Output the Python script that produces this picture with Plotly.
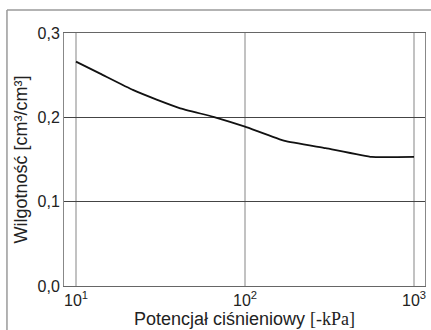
import plotly.graph_objects as go

# Data
pressure_kpa = [10, 14, 21.7, 30, 41, 65, 100, 172, 300, 562, 1000]
moisture = [0.266, 0.2515, 0.2325, 0.221, 0.211, 0.2005, 0.189, 0.172, 0.1635, 0.153, 0.153]

x_tick_vals = [10, 100, 1000]
x_tick_text = ["10<sup>1</sup>", "10<sup>2</sup>", "10<sup>3</sup>"]
y_tick_vals = [0.0, 0.1, 0.2, 0.3]
y_tick_text = ["0,0", "0,1", "0,2", "0,3"]

tick_font = dict(family="Liberation Sans, Arial, sans-serif", size=16, color="#222222")
title_font = dict(family="Liberation Sans, Arial, sans-serif", size=18, color="#222222")

fig = go.Figure()
fig.add_trace(go.Scatter(x=pressure_kpa, y=moisture, mode="lines",
                         line=dict(color="#111111", width=1.8, shape="spline", smoothing=0.3),
                         showlegend=False))

fig.update_layout(
    width=431, height=330,
    margin=dict(l=64, r=6, t=33, b=44),
    paper_bgcolor="white", plot_bgcolor="white",
    font=tick_font,
    xaxis=dict(type="log", range=[0.929, 3.065],
               tickvals=x_tick_vals, ticktext=x_tick_text, tickfont=tick_font,
               showgrid=True, gridcolor="#c2c2c2", gridwidth=2,
               showline=True, linecolor="#666666", linewidth=1, mirror=True,
               ticks="", zeroline=False,
               title=dict(text="Potencjał ciśnieniowy <span style='font-family:Liberation Serif, Times New Roman, serif'>[-kPa]</span>",
                          font=title_font, standoff=2)),
    yaxis=dict(range=[0, 0.3],
               tickvals=y_tick_vals, ticktext=y_tick_text, tickfont=tick_font,
               showgrid=True, gridcolor="#444444", gridwidth=1,
               showline=True, linecolor="#888888", linewidth=1, mirror=True,
               ticks="", zeroline=False,
               title=dict(text="Wilgotność [cm³/cm³]", font=title_font, standoff=5)),
    shapes=[
        dict(type="line", xref="paper", yref="paper", x0=-0.158, x1=-0.158, y0=-0.3, y1=1.091,
             line=dict(color="#9a9a9a", width=1.5)),
        dict(type="line", xref="paper", yref="paper", x0=-0.158, x1=1.05, y0=1.091, y1=1.091,
             line=dict(color="#9a9a9a", width=1.5)),
    ],
)

fig.write_html("out.html")
